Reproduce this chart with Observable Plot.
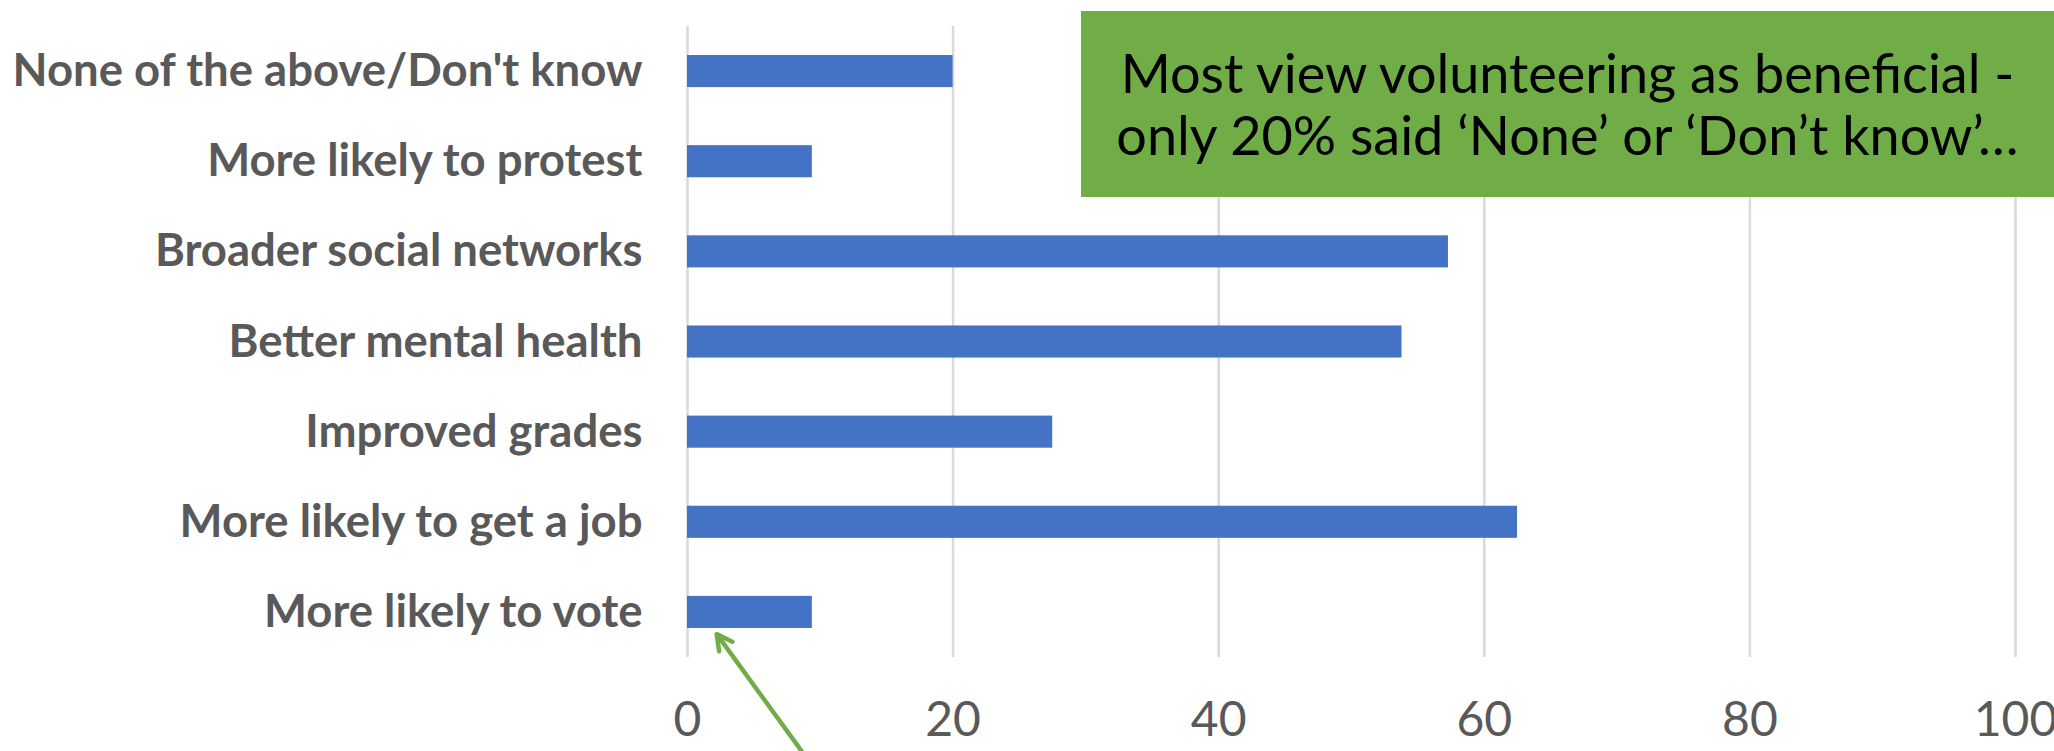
<!DOCTYPE html>
<html>
<head>
<meta charset="utf-8">
<script src="https://cdn.jsdelivr.net/npm/d3@7"></script>
<script src="https://cdn.jsdelivr.net/npm/@observablehq/plot@0.6"></script>
<style>
  html, body { margin: 0; padding: 0; background: #fff; overflow: hidden; }
  #wrap { position: relative; width: 2054px; height: 751px; }
  #note {
    position: absolute; left: 1081px; top: 11px; width: 973px; height: 186px;
    background: #70AD47; color: #000;
    display: flex; flex-direction: column; align-items: center; justify-content: center;
    font-family: Lato, sans-serif; font-size: 54px; line-height: 62px; text-align: center;
    white-space: nowrap;
  }
</style>
</head>
<body>
<div id="wrap"><div id="note"><div>Most view volunteering as beneficial -</div><div>only 20% said ‘None’ or ‘Don’t know’…</div></div></div>
<script>
// categories from bottom (index 0) to top (index 6)
const categories = [
  "More likely to vote",
  "More likely to get a job",
  "Improved grades",
  "Better mental health",
  "Broader social networks",
  "More likely to protest",
  "None of the above/Don't know"
];
const values = [9.4, 62.5, 27.5, 53.8, 57.3, 9.4, 20.0];
const xTicks = [0, 20, 40, 60, 80, 100];

// annotation arrow (data units: x = percent, y = category index)
const arrowFrom = {x: 8.7, y: -1.56};
const arrowTo = {x: 2.2, y: -0.24};

const data = categories.map((c, i) => ({i, category: c, value: values[i]}));
const half = 0.178;

const chart = Plot.plot({
  width: 2054,
  height: 751,
  marginLeft: 687,
  marginRight: 39,
  marginTop: 26,
  marginBottom: 94,
  x: {domain: [0, 100]},
  y: {domain: [-0.5, 6.5]},
  style: {background: "transparent"},
  marks: [
    Plot.gridX({ticks: xTicks, stroke: "#d9d9d9", strokeOpacity: 1, strokeWidth: 2.5}),
    Plot.rectX(data, {x1: 0, x2: "value", y1: d => d.i - half, y2: d => d.i + half, fill: "#4472C4"}),
    Plot.axisX({ticks: xTicks, tickSize: 0, tickPadding: 44, fontSize: 48, fill: "#595959",
      fontFamily: "Lato, sans-serif", label: null}),
    Plot.axisY({ticks: d3.range(categories.length), tickFormat: i => categories[i], tickSize: 0,
      tickPadding: 45, fontSize: 45.5, fontWeight: "bold", fill: "#595959",
      fontFamily: "Lato, sans-serif", label: null}),
    Plot.arrow([{x1: arrowFrom.x, y1: arrowFrom.y, x2: arrowTo.x, y2: arrowTo.y}], {
      x1: "x1", y1: "y1", x2: "x2", y2: "y2",
      stroke: "#70AD47", strokeWidth: 4.5, headLength: 5.8, headAngle: 56, strokeLinecap: "round"
    })
  ]
});
chart.style.position = "absolute";
chart.style.left = "0px";
chart.style.top = "0px";
chart.style.overflow = "visible";
document.getElementById("wrap").prepend(chart);
</script>
</body>
</html>
